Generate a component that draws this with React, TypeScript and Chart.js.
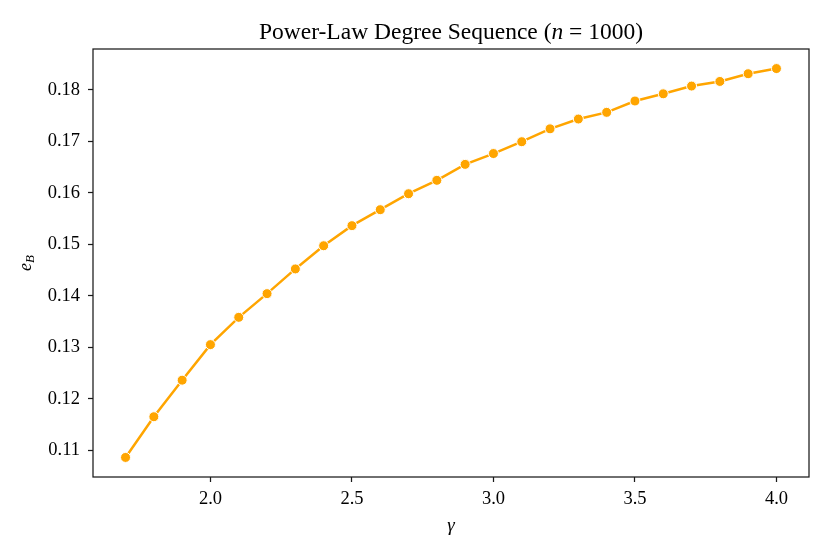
import React, { useEffect, useRef } from "react";
import { Chart, registerables } from "chart.js";

Chart.register(...registerables);

const gammaValues = [1.7, 1.8, 1.9, 2.0, 2.1, 2.2, 2.3, 2.4, 2.5, 2.6, 2.7, 2.8, 2.9, 3.0, 3.1, 3.2, 3.3, 3.4, 3.5, 3.6, 3.7, 3.8, 3.9, 4.0];
const eBValues = [0.1086, 0.1165, 0.1236, 0.1305, 0.1358, 0.1404, 0.1452, 0.1497, 0.1536, 0.1567, 0.1598, 0.1624, 0.1655, 0.1676, 0.1699, 0.1724, 0.1743, 0.1756, 0.1778, 0.1792, 0.1807, 0.1816, 0.1831, 0.1841];
const xTickValues = [2.0, 2.5, 3.0, 3.5, 4.0];
const yTickValues = [0.11, 0.12, 0.13, 0.14, 0.15, 0.16, 0.17, 0.18];
const titleBefore = "Power-Law Degree Sequence (";
const titleVar = "n";
const titleAfter = " = 1000)";
const xLabel = "γ";
const yLabelMain = "e";
const yLabelSub = "B";

const FONT = "'Liberation Serif', 'DejaVu Serif', serif";

const decorPlugin = {
  id: "decor",
  afterDraw(chart: any) {
    const { ctx, chartArea } = chart;
    const { left, right, top, bottom } = chartArea;
    ctx.save();
    // frame
    ctx.strokeStyle = "#1a1a1a";
    ctx.lineWidth = 1.25;
    ctx.strokeRect(left, top, right - left, bottom - top);
    ctx.fillStyle = "#000";
    // title
    ctx.textBaseline = "alphabetic";
    const tf = `23.5px ${FONT}`;
    const tfi = `italic 23.5px ${FONT}`;
    ctx.font = tf;
    const w1 = ctx.measureText(titleBefore).width;
    const w3 = ctx.measureText(titleAfter).width;
    ctx.font = tfi;
    const w2 = ctx.measureText(titleVar).width;
    const total = w1 + w2 + w3;
    let x = (left + right) / 2 - total / 2;
    const ty = 39;
    ctx.font = tf;
    ctx.textAlign = "left";
    ctx.fillText(titleBefore, x, ty);
    x += w1;
    ctx.font = tfi;
    ctx.fillText(titleVar, x, ty);
    x += w2;
    ctx.font = tf;
    ctx.fillText(titleAfter, x, ty);
    // x label
    ctx.font = `italic 19px ${FONT}`;
    ctx.textAlign = "center";
    ctx.fillText(xLabel, (left + right) / 2, 531);
    // y label
    ctx.translate(31, (top + bottom) / 2);
    ctx.rotate(-Math.PI / 2);
    ctx.font = `italic 18px ${FONT}`;
    const we = ctx.measureText(yLabelMain).width;
    ctx.font = `italic 13px ${FONT}`;
    const wb = ctx.measureText(yLabelSub).width;
    const start = -(we + wb) / 2;
    ctx.textAlign = "left";
    ctx.font = `italic 18px ${FONT}`;
    ctx.fillText(yLabelMain, start, 0);
    ctx.font = `italic 13px ${FONT}`;
    ctx.fillText(yLabelSub, start + we, 3);
    ctx.restore();
  },
};

export default function App() {
  const ref = useRef<HTMLCanvasElement | null>(null);
  useEffect(() => {
    if (!ref.current) return;
    const chart = new Chart(ref.current, {
      type: "line",
      data: {
        datasets: [
          {
            data: gammaValues.map((g, i) => ({ x: g, y: eBValues[i] })),
            borderColor: "#FFA500",
            backgroundColor: "#FFA500",
            borderWidth: 2.5,
            pointRadius: 5,
            pointBorderColor: "#ffffff",
            pointBorderWidth: 1,
            pointBackgroundColor: "#FFA500",
            tension: 0,
            fill: false,
          },
        ],
      },
      options: {
        animation: false,
        responsive: false,
        devicePixelRatio: 1,
        layout: { padding: { top: 49, right: 21, left: 0, bottom: 0 } },
        plugins: { legend: { display: false }, tooltip: { enabled: false }, title: { display: false } },
        scales: {
          x: {
            type: "linear",
            min: 1.585,
            max: 4.115,
            afterBuildTicks: (s: any) => {
              s.ticks = xTickValues.map((v) => ({ value: v }));
            },
            afterFit: (s: any) => {
              s.height = 77;
            },
            grid: { display: true, drawOnChartArea: false, drawTicks: true, tickLength: 5, tickColor: "#1a1a1a", tickWidth: 1.25 },
            border: { display: false },
            ticks: {
              color: "#000",
              padding: 6,
              maxRotation: 0,
              autoSkip: false,
              font: { family: FONT, size: 18.5 },
              callback: (v: any) => Number(v).toFixed(1),
            },
          },
          y: {
            type: "linear",
            min: 0.1048,
            max: 0.1879,
            afterBuildTicks: (s: any) => {
              s.ticks = yTickValues.map((v) => ({ value: v }));
            },
            afterFit: (s: any) => {
              s.width = 93;
            },
            grid: { display: true, drawOnChartArea: false, drawTicks: true, tickLength: 5, tickColor: "#1a1a1a", tickWidth: 1.25 },
            border: { display: false },
            ticks: {
              color: "#000",
              padding: 8,
              autoSkip: false,
              font: { family: FONT, size: 18.5 },
              callback: (v: any) => Number(v).toFixed(2),
            },
          },
        },
      },
      plugins: [decorPlugin],
    });
    return () => chart.destroy();
  }, []);
  return (
    <div style={{ position: "absolute", left: 0, top: 0, width: 830, height: 554, background: "#fff" }}>
      <canvas ref={ref} width={830} height={554} style={{ width: 830, height: 554, display: "block" }} />
    </div>
  );
}
